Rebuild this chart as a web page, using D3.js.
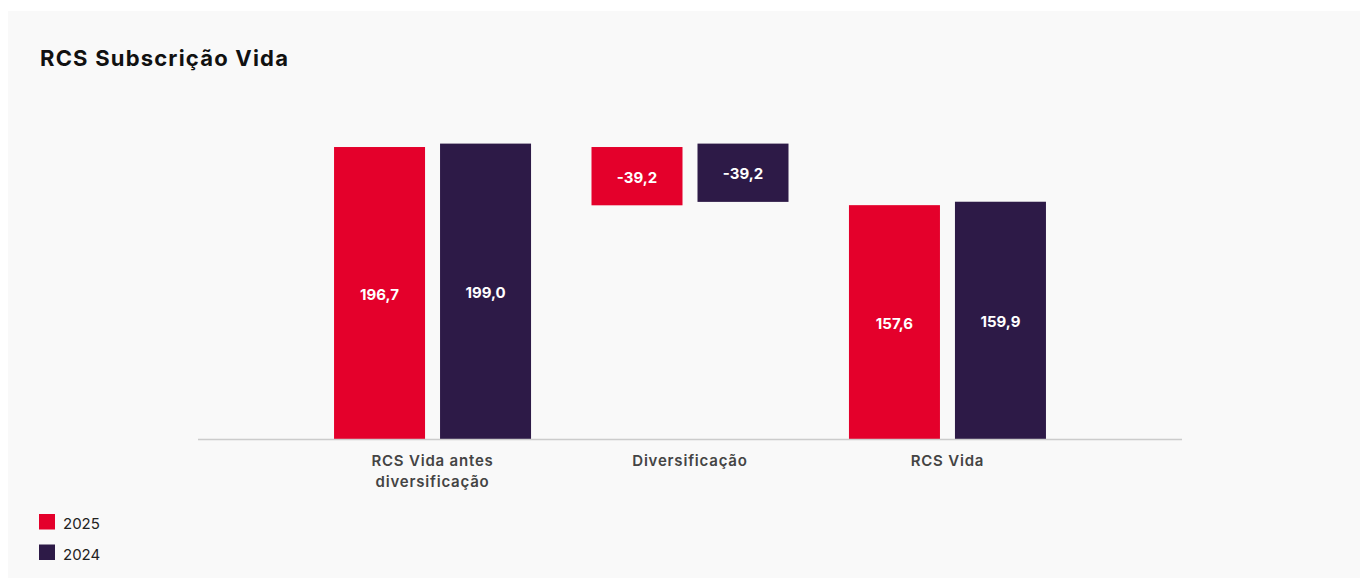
<!DOCTYPE html>
<html lang="pt">
<head>
  <meta charset="UTF-8">
  <title>RCS Subscrição Vida</title>
  <style>
    body {
      margin: 0;
      background: #fff;
      font-family: 'Inter', 'Noto Sans', sans-serif;
    }
    #chart {
      width: 1360px;
      height: 578px;
    }
  </style>
</head>
<body>
  <div id="chart"></div>

  <script src="https://d3js.org/d3.v7.min.js"></script>

  <script>
    const categories = ['RCS Vida antes diversificação', 'Diversificação', 'RCS Vida'];
    const categoryLines = [['RCS Vida antes', 'diversificação'], ['Diversificação'], ['RCS Vida']];
    const years = ['2025', '2024'];
    // valor de cada passo da cascata (o último é o total)
    const values2025 = [196.7, -39.2, 157.6];
    const values2024 = [199.0, -39.2, 159.9];
    const isTotal = [true, false, true];
    const colors = ['#e4002b', '#2d1a47'];

    const width = 1360;
    const height = 578;

    const svg = d3.select('#chart')
      .append('svg')
      .attr('width', width)
      .attr('height', height);

    // painel cinzento
    svg.append('rect')
      .attr('x', 8).attr('y', 11)
      .attr('width', width - 8).attr('height', height - 11)
      .attr('fill', '#f9f9f9');

    svg.append('text')
      .attr('x', 40).attr('y', 66)
      .text('RCS Subscrição Vida')
      .style('font-size', '22px')
      .style('font-weight', 700)
      .style('letter-spacing', '1.2px')
      .style('fill', '#111');

    const x0 = d3.scalePoint()
      .domain(categories)
      .range([198, 1182])
      .padding(0.911);

    const x1 = d3.scaleBand()
      .domain(years)
      .range([-98.5, 98.5])
      .paddingInner(0.1415);

    const y = d3.scaleLinear()
      .domain([0, 199.0])
      .range([439.5, 143.6]);

    // construir segmentos da cascata
    const series = [values2025, values2024];
    const bars = [];
    series.forEach((vals, si) => {
      let running = 0;
      vals.forEach((v, i) => {
        let y0, y1;
        if (isTotal[i]) {
          y0 = 0; y1 = v; running = v;
        } else {
          y0 = running; y1 = running + v; running = y1;
        }
        bars.push({ cat: categories[i], year: years[si], color: colors[si], y0, y1, v });
      });
    });

    const g = svg.append('g');

    g.selectAll('rect.bar')
      .data(bars)
      .join('rect')
      .attr('class', 'bar')
      .attr('x', d => x0(d.cat) + x1(d.year))
      .attr('width', x1.bandwidth())
      .attr('y', d => y(Math.max(d.y0, d.y1)))
      .attr('height', d => Math.abs(y(d.y0) - y(d.y1)))
      .attr('fill', d => d.color);

    g.selectAll('text.val')
      .data(bars)
      .join('text')
      .attr('class', 'val')
      .attr('x', d => x0(d.cat) + x1(d.year) + x1.bandwidth() / 2)
      .attr('y', d => (y(d.y0) + y(d.y1)) / 2)
      .attr('dy', '0.45em')
      .attr('text-anchor', 'middle')
      .style('font-size', '15px')
      .style('font-weight', 700)
      .style('fill', '#fff')
      .text(d => d.v.toFixed(1).replace('.', ','));

    // linha base
    svg.append('line')
      .attr('x1', 198).attr('x2', 1182)
      .attr('y1', y(0)).attr('y2', y(0))
      .attr('stroke', '#ccc')
      .attr('stroke-width', 1.5);

    const labels = svg.selectAll('text.cat')
      .data(categories)
      .join('text')
      .attr('class', 'cat')
      .attr('text-anchor', 'middle')
      .style('font-size', '15px')
      .style('font-weight', 600)
      .style('letter-spacing', '0.8px')
      .style('fill', '#444');

    labels.selectAll('tspan')
      .data((d, i) => categoryLines[i])
      .join('tspan')
      .attr('x', function() { return x0(d3.select(this.parentNode).datum()); })
      .attr('y', (d, i) => 466 + i * 21)
      .text(d => d);

    // legenda
    const legend = svg.selectAll('g.legend')
      .data(years)
      .join('g')
      .attr('class', 'legend')
      .attr('transform', (d, i) => `translate(39,${514 + i * 30.5})`);

    legend.append('rect')
      .attr('width', 16).attr('height', 15.5)
      .attr('fill', (d, i) => colors[i]);

    legend.append('text')
      .attr('x', 24).attr('y', 15)
      .style('font-size', '15px')
      .style('font-weight', 400)
      .style('fill', '#222')
      .text(d => d);
  </script>
</body>
</html>
